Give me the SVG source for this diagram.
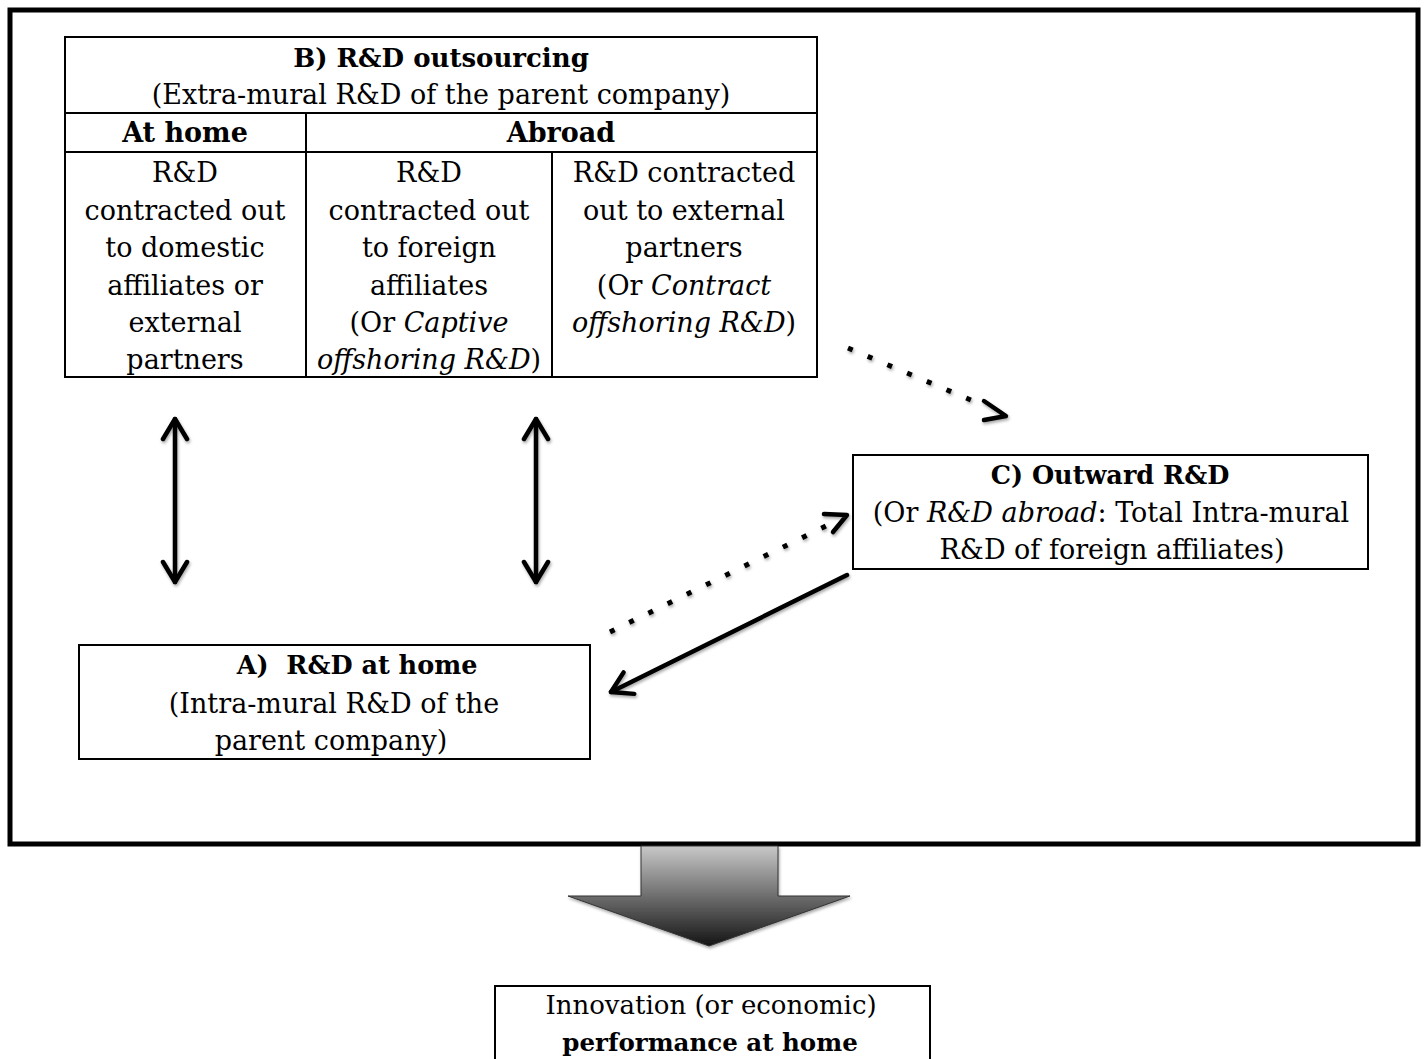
<svg xmlns="http://www.w3.org/2000/svg" width="1425" height="1059" viewBox="0 0 1425 1059">
<style>
.t{font-family:"DejaVu Serif","Liberation Serif",serif;font-size:27px;fill:#000;text-anchor:middle}
.b{font-weight:bold}
.h{font-size:25.5px}
.i{font-style:italic}
.box{fill:#fff;stroke:#000;stroke-width:2}
.ln{stroke:#000;stroke-width:2}
.arr{fill:none;stroke:#000;stroke-width:4.5;stroke-linecap:round;stroke-linejoin:round}
.dot{fill:none;stroke:#000;stroke-width:5;stroke-dasharray:5 16.4}
</style>
<defs>
<marker id="ah" viewBox="-3 -3 30 30" refX="22" refY="12" markerWidth="30" markerHeight="30" orient="auto-start-reverse" markerUnits="userSpaceOnUse">
<path d="M2,0 L22,12 L2,24" fill="none" stroke="#000" stroke-width="4.5" stroke-linecap="round" stroke-linejoin="round"/>
</marker>
<linearGradient id="g" x1="0" y1="0" x2="0" y2="1">
<stop offset="0" stop-color="#c8c8c8"/>
<stop offset="1" stop-color="#141414"/>
</linearGradient>
<filter id="sh" x="-20%" y="-20%" width="140%" height="140%">
<feDropShadow dx="1" dy="2" stdDeviation="1.5" flood-color="#000" flood-opacity="0.35"/>
</filter>
</defs>
<rect x="0" y="0" width="1425" height="1059" fill="#fff"/>

<g id="frame">
<rect x="10" y="10" width="1408" height="834" fill="none" stroke="#000" stroke-width="5"/>
</g>

<g id="nodeB">
<rect class="box" x="65" y="37" width="752" height="340"/>
<line class="ln" x1="65" y1="113" x2="817" y2="113"/>
<line class="ln" x1="65" y1="152" x2="817" y2="152"/>
<line class="ln" x1="306" y1="113" x2="306" y2="377"/>
<line class="ln" x1="552" y1="152" x2="552" y2="377"/>
<text class="t b" x="441" y="67" style="font-size:26px">B) R&amp;D outsourcing</text>
<text class="t" x="441" y="104">(Extra-mural R&amp;D of the parent company)</text>
<text class="t b" x="185" y="142">At home</text>
<text class="t b" x="561" y="142">Abroad</text>
<text class="t" x="185" y="182">R&amp;D</text>
<text class="t" x="185" y="220">contracted out</text>
<text class="t" x="185" y="257">to domestic</text>
<text class="t" x="185" y="295">affiliates or</text>
<text class="t" x="185" y="332">external</text>
<text class="t" x="185" y="369">partners</text>
<text class="t" x="429" y="182">R&amp;D</text>
<text class="t" x="429" y="220">contracted out</text>
<text class="t" x="429" y="257">to foreign</text>
<text class="t" x="429" y="295">affiliates</text>
<text class="t" x="429" y="332">(Or <tspan class="i">Captive</tspan></text>
<text class="t" x="429" y="369"><tspan class="i">offshoring R&amp;D</tspan>)</text>
<text class="t" x="684" y="182">R&amp;D contracted</text>
<text class="t" x="684" y="220">out to external</text>
<text class="t" x="684" y="257">partners</text>
<text class="t" x="684" y="295">(Or <tspan class="i">Contract</tspan></text>
<text class="t" x="684" y="332"><tspan class="i">offshoring R&amp;D</tspan>)</text>
</g>

<g id="nodeC">
<rect class="box" x="853" y="455" width="515" height="114"/>
<text class="t b h" x="1110" y="484">C) Outward R&amp;D</text>
<text class="t" x="1111" y="522">(Or <tspan class="i">R&amp;D abroad</tspan>: Total Intra-mural</text>
<text class="t" x="1112" y="559">R&amp;D of foreign affiliates)</text>
</g>

<g id="nodeA">
<rect class="box" x="79" y="645" width="511" height="114"/>
<text class="t b h" x="357" y="674" style="white-space:pre">A)  R&amp;D at home</text>
<text class="t" x="334" y="713">(Intra-mural R&amp;D of the</text>
<text class="t" x="331" y="750">parent company)</text>
</g>

<g id="nodeOut">
<rect class="box" x="495" y="986" width="435" height="90"/>
<text class="t" x="711" y="1014" style="font-size:26px">Innovation (or economic)</text>
<text class="t b" x="710" y="1051" style="font-size:24.5px">performance at home</text>
</g>

<g id="connectors" filter="url(#sh)">
<line class="arr" x1="175" y1="419" x2="175" y2="582" marker-start="url(#ah)" marker-end="url(#ah)"/>
<line class="arr" x1="536" y1="419" x2="536" y2="582" marker-start="url(#ah)" marker-end="url(#ah)"/>
<line class="arr" x1="847" y1="575" x2="611" y2="692" marker-end="url(#ah)"/>
<line class="dot" x1="848" y1="348" x2="985" y2="406"/>
<path class="arr" d="M984,401 L1006,416 L984,420"/>
<line class="dot" x1="610" y1="632" x2="830" y2="524"/>
<path class="arr" d="M824,514 L847,515 L833,532"/>
<path d="M641,846 L778,846 L778,896 L850,896 L709,946 L568,896 L641,896 Z" fill="url(#g)" stroke="#333" stroke-width="1"/>
</g>
</svg>
